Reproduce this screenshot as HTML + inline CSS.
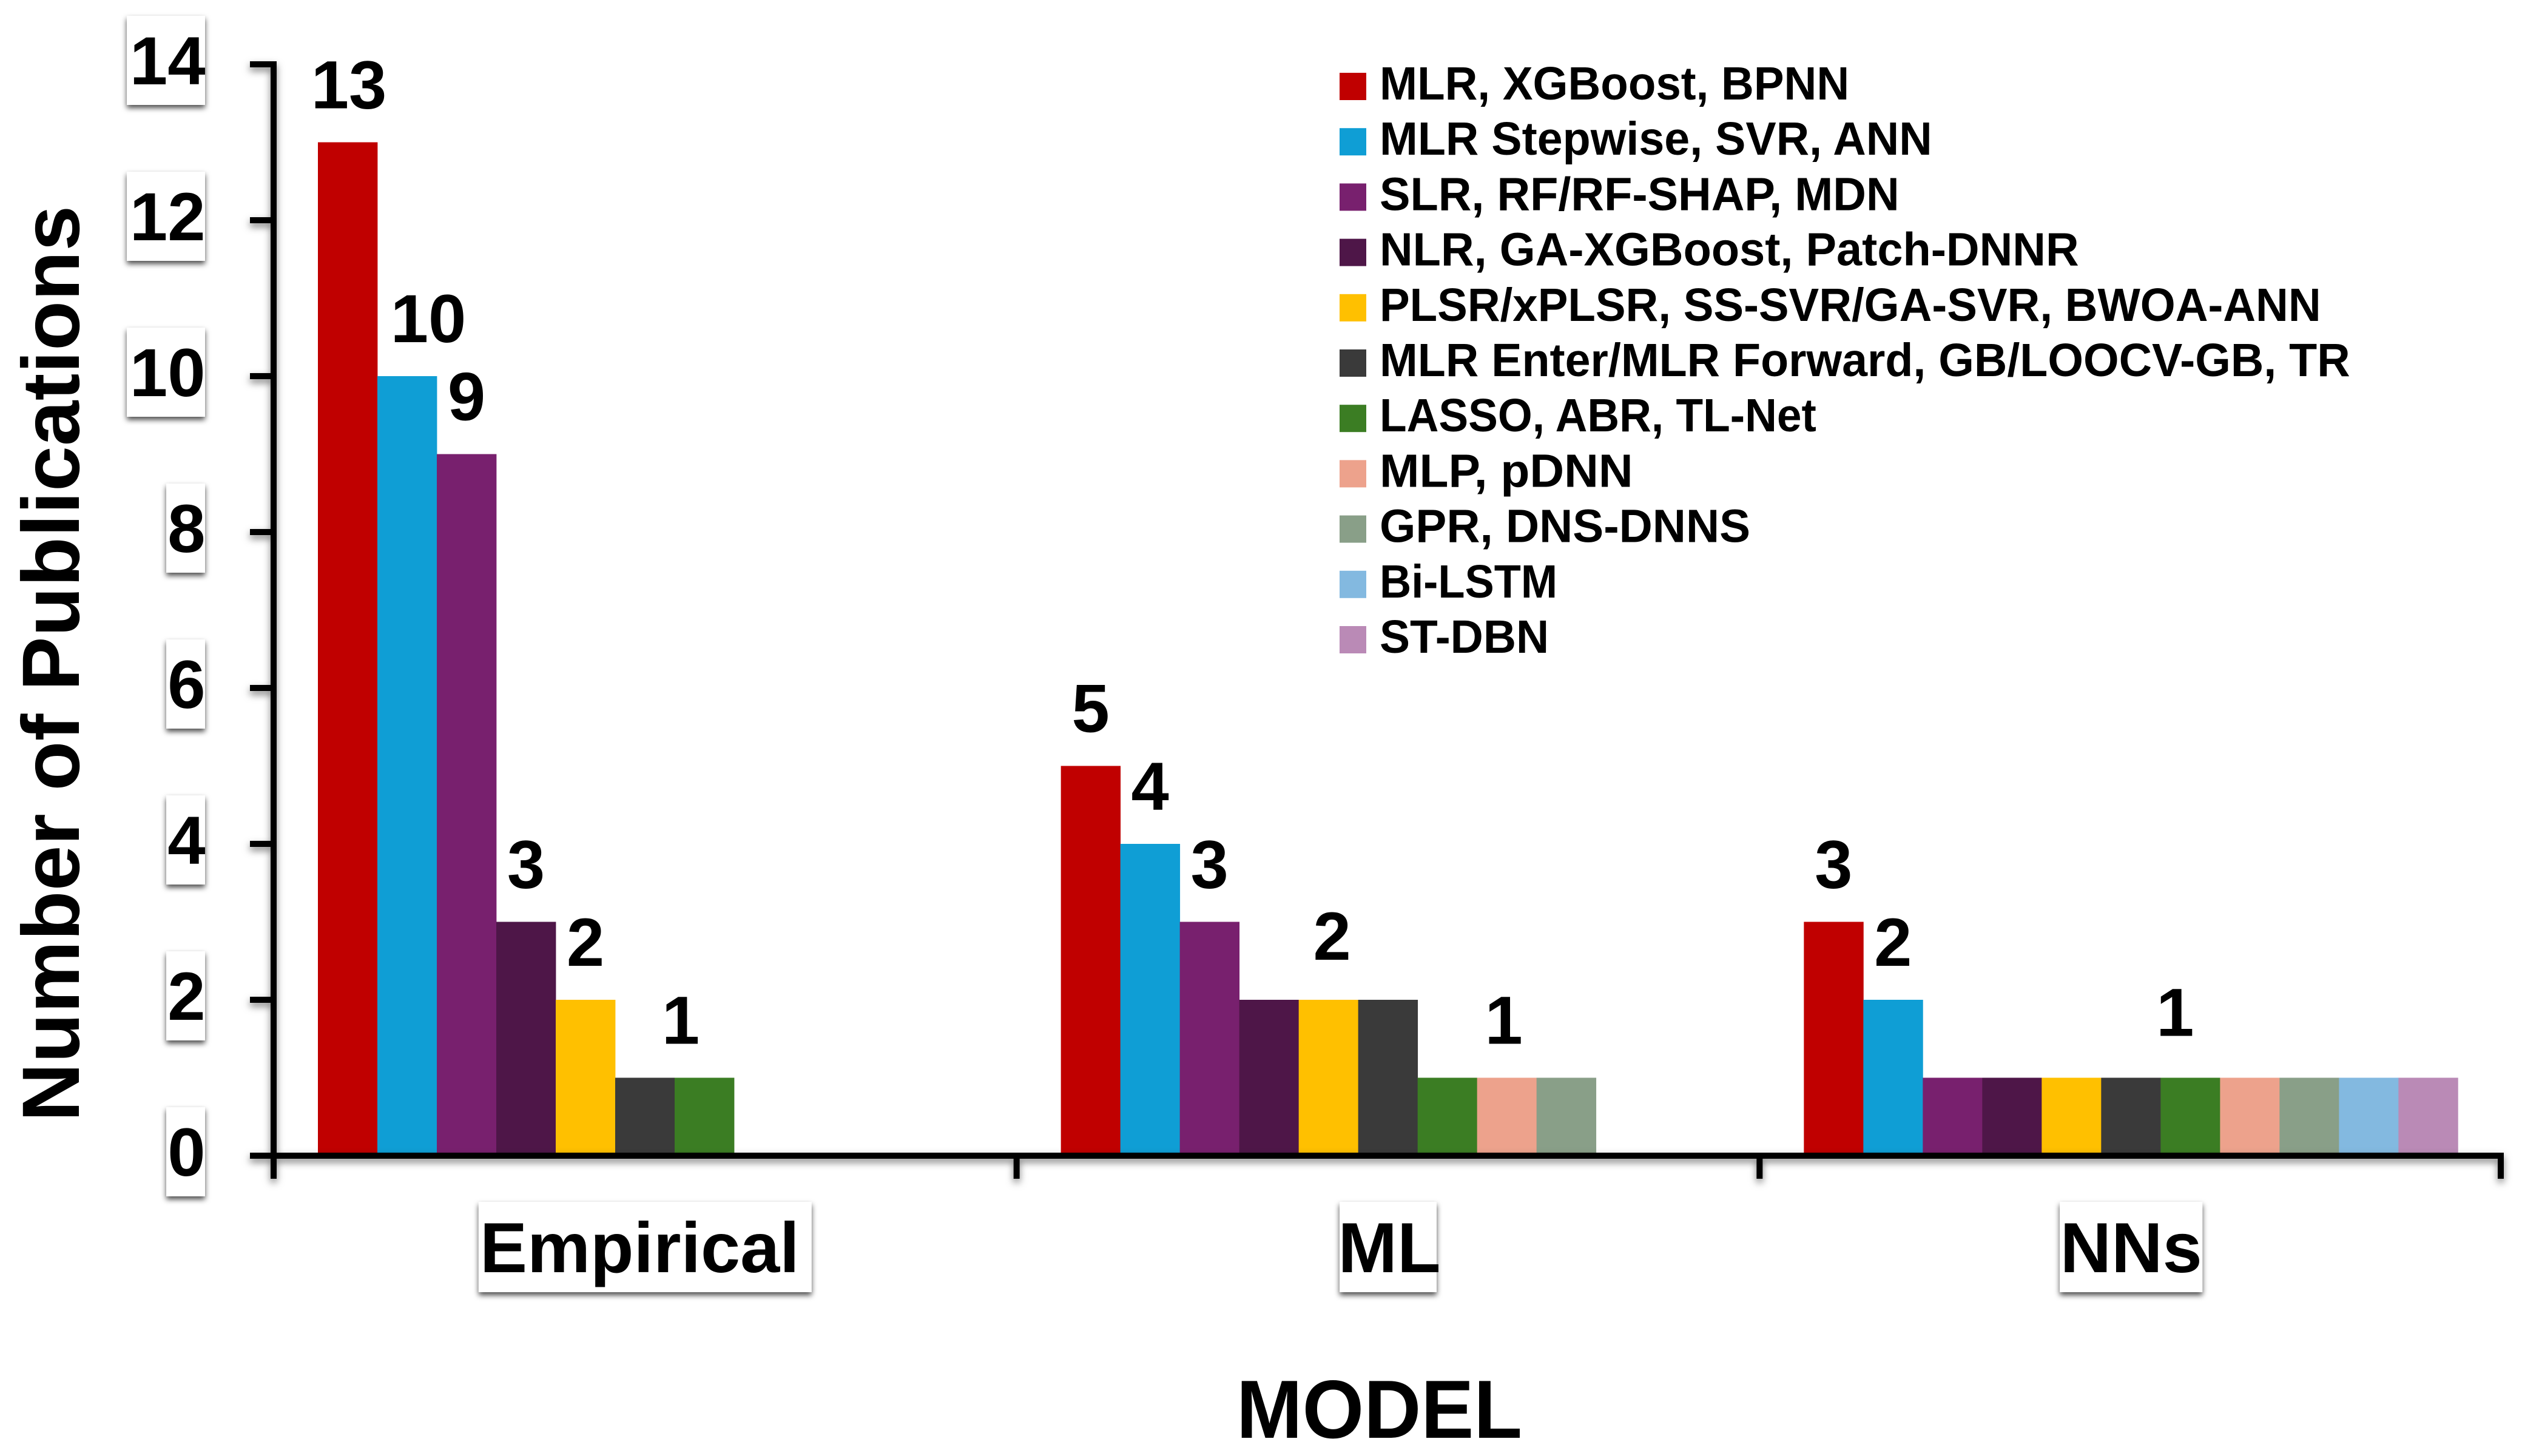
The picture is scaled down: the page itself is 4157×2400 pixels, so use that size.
<!DOCTYPE html>
<html lang="en">
<head>
<meta charset="utf-8">
<title>Number of Publications by Model</title>
<style>
html,body{margin:0;padding:0;background:#fff;}
svg{display:block;}
text{font-family:"Liberation Sans",Arial,sans-serif;font-weight:700;fill:#000;}
</style>
</head>
<body>
<svg id="chart" xmlns="http://www.w3.org/2000/svg" width="4157" height="2400" viewBox="0 0 4157 2400">
  <defs>
    <filter id="boxShadow" filterUnits="objectBoundingBox" x="-30%" y="-20%" width="160%" height="145%">
      <feDropShadow dx="0" dy="5" stdDeviation="4.5" flood-color="#000" flood-opacity="0.7"/>
    </filter>
    <filter id="axisShadow" filterUnits="userSpaceOnUse" x="0" y="0" width="4157" height="2400">
      <feDropShadow dx="0" dy="6" stdDeviation="6" flood-color="#000" flood-opacity="0.5"/>
    </filter>
  </defs>
  <rect x="0" y="0" width="4157" height="2400" fill="#ffffff"/>
  <g id="bars"></g>
  <g id="axes" filter="url(#axisShadow)"></g>
  <g id="yTickLabels"></g>
  <g id="xTickLabels"></g>
  <g id="valueLabels"></g>
  <g id="legend"></g>
  <text font-size="134" transform="translate(130 1849) rotate(-90)" textLength="1510">Number of Publications</text>
  <text font-size="136" x="2038" y="2370" textLength="471" lengthAdjust="spacingAndGlyphs">MODEL</text>
</svg>
<script>
const categories = ['Empirical', 'ML', 'NNs'];
const seriesNames = [
  'MLR, XGBoost, BPNN',
  'MLR Stepwise, SVR, ANN',
  'SLR, RF/RF-SHAP, MDN',
  'NLR, GA-XGBoost, Patch-DNNR',
  'PLSR/xPLSR, SS-SVR/GA-SVR, BWOA-ANN',
  'MLR Enter/MLR Forward, GB/LOOCV-GB, TR',
  'LASSO, ABR, TL-Net',
  'MLP, pDNN',
  'GPR, DNS-DNNS',
  'Bi-LSTM',
  'ST-DBN'
];
const seriesColors = ['#C00000', '#0F9ED5', '#78206E', '#4E1648', '#FFC000', '#3A3A3A', '#3B7D23', '#EDA28C', '#899F88', '#83B9E0', '#BA8AB6'];
const valuesEmpirical = [13, 10, 9, 3, 2, 1, 1, 0, 0, 0, 0];
const valuesML = [5, 4, 3, 2, 2, 2, 1, 1, 1, 0, 0];
const valuesNNs = [3, 2, 1, 1, 1, 1, 1, 1, 1, 1, 1];
const yTickValues = [0, 2, 4, 6, 8, 10, 12, 14];

const groupValues = [valuesEmpirical, valuesML, valuesNNs];
const SVG_NS = 'http://www.w3.org/2000/svg';
const plotLeft = 451, plotRight = 4125, plotBottom = 1905, unitHeight = 128.5;
const bandWidth = (plotRight - plotLeft) / categories.length;
const barOffset = 73, barWidth = 98.0;

function yScale(v) { return plotBottom - v * unitHeight; }
function bandLeft(c) { return plotLeft + c * bandWidth; }
function barLeft(c, s) { return bandLeft(c) + barOffset + s * barWidth; }

function makeRect(parent, x, y, w, h, fill) {
  const r = document.createElementNS(SVG_NS, 'rect');
  r.setAttribute('x', x);
  r.setAttribute('y', y);
  r.setAttribute('width', w);
  r.setAttribute('height', h);
  r.setAttribute('fill', fill);
  parent.appendChild(r);
  return r;
}
function makeText(parent, x, y, size, anchor, content) {
  const t = document.createElementNS(SVG_NS, 'text');
  t.setAttribute('x', x);
  t.setAttribute('y', y);
  t.setAttribute('font-size', size);
  t.setAttribute('text-anchor', anchor);
  t.textContent = content;
  parent.appendChild(t);
  return t;
}

/* bars */
const barsG = document.getElementById('bars');
groupValues.forEach(function (vals, c) {
  vals.forEach(function (v, s) {
    if (!v) return;
    const top = yScale(v);
    const bar = makeRect(barsG, barLeft(c, s), top, barWidth + 0.4, plotBottom - top, seriesColors[s]);
    
    
  });
});

/* axes */
const axesG = document.getElementById('axes');
const yAxisLine = makeRect(axesG, plotLeft - 5, yScale(14) - 5, 10, 1943 - yScale(14) + 5, '#000');


const xAxisLine = makeRect(axesG, plotLeft - 39, plotBottom - 5, plotRight - plotLeft + 41, 10, '#000');


yTickValues.forEach(function (t) {
  const tick = makeRect(axesG, plotLeft - 39, yScale(t) - 5, 39, 10, '#000');
  
  
});
for (let c = 0; c <= categories.length; c++) {
  const tickRightTrim = c === categories.length ? 3 : 0;
  const tick = makeRect(axesG, bandLeft(c) - 5 - tickRightTrim, plotBottom, 10, 38, '#000');
  
  
}

/* y tick labels */
const yLabelsG = document.getElementById('yTickLabels');
yTickValues.forEach(function (t) {
  const y = yScale(t);
  const two = String(t).length > 1;
  const box = makeRect(yLabelsG, two ? 209 : 274, y - 80, two ? 129 : 64, 147, '#fff');
  box.setAttribute('filter', 'url(#boxShadow)');
  
  
  const label = makeText(yLabelsG, 338.5, y + 33, 112, 'end', String(t));
  
  
});

/* category labels */
const xLabelsG = document.getElementById('xTickLabels');
categories.forEach(function (name, c) {
  const cx = bandLeft(c) + bandWidth / 2;
  const textShift = [-9, 2, 0][c];
  const boxPad = [22, -9, 1][c];
  const box = makeRect(xLabelsG, cx, 1981, 10, 149, '#fff');
  box.setAttribute('filter', 'url(#boxShadow)');
  
  
  const label = makeText(xLabelsG, cx + textShift, 2097, 117, 'middle', name);
  
  
  const w = label.getComputedTextLength() + boxPad;
  box.setAttribute('x', cx - w / 2);
  box.setAttribute('width', w);
});

/* value labels: one label per run of equal adjacent values */
const valueG = document.getElementById('valueLabels');
function labelNudge(c, firstBar) {
  const key = c + ':' + firstBar;
  if (key === '0:0') return [2, 0];
  if (key === '0:1') return [35, 0];
  if (key === '0:5') return [10, 0];
  if (key === '1:3') return [6, -10];
  if (key === '1:6') return [-5, 0];
  if (key === '2:2') return [-25, -13];
  return [0, 0];
}
groupValues.forEach(function (vals, c) {
  let s = 0;
  while (s < vals.length) {
    let e = s;
    while (e + 1 < vals.length && vals[e + 1] === vals[s]) e++;
    if (vals[s]) {
      const nudge = labelNudge(c, s);
      const cx = (barLeft(c, s) + barLeft(c, e) + barWidth) / 2 + nudge[0];
      const label = makeText(valueG, cx, yScale(vals[s]) - 56 + nudge[1], 112, 'middle', String(vals[s]));
      
      
    }
    s = e + 1;
  }
});

/* legend */
const legendG = document.getElementById('legend');
seriesNames.forEach(function (name, i) {
  const rowY = 120 + i * 91.2;
  const widthTweak = [-5, 5, 8, 11, -11, 8, -19, 19, 11, -11, 0][i];
  const swatch = makeRect(legendG, 2208, rowY, 44, 45, seriesColors[i]);
  
  
  const label = makeText(legendG, 2274, rowY + 44, 77, 'start', name);
  
  
  label.setAttribute('textLength', label.getComputedTextLength() * 75 / 77 + widthTweak);
  label.setAttribute('lengthAdjust', 'spacingAndGlyphs');
});
</script>
</body>
</html>
